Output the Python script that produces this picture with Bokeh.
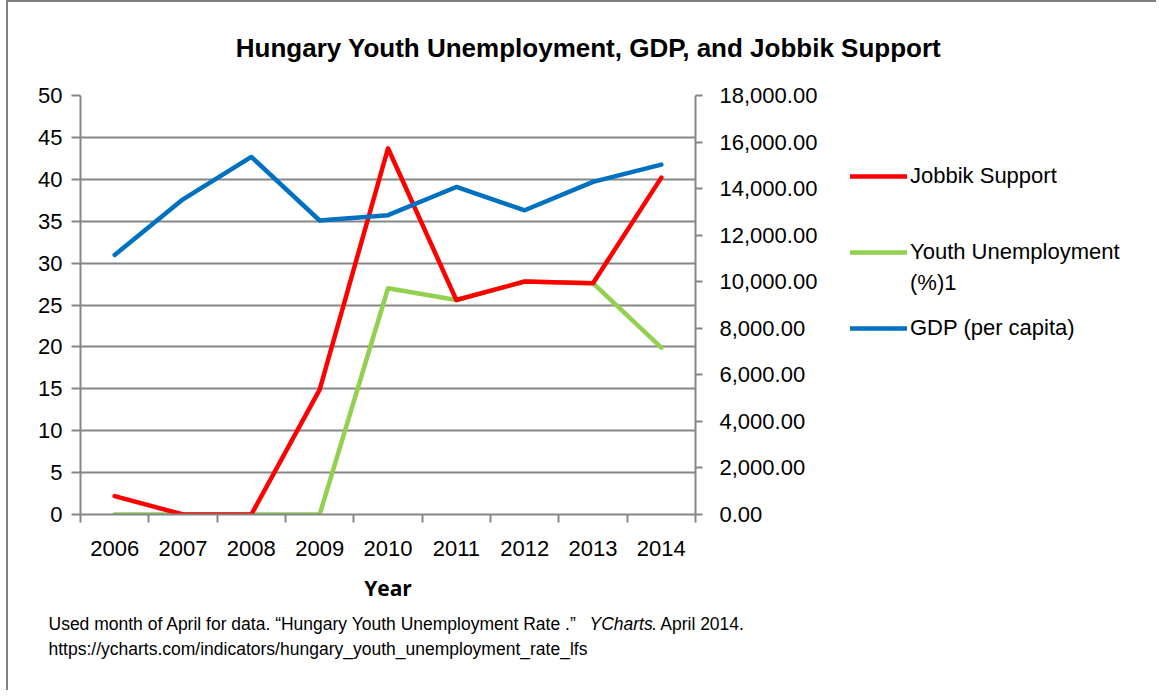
from bokeh.plotting import figure
from bokeh.layouts import column, row
from bokeh.models import (Range1d, LinearAxis, FixedTicker, NumeralTickFormatter,
                          Legend, LegendItem, Label)
from bokeh.embed import file_html
from bokeh.resources import INLINE

# ---- data ----
years = ["2006", "2007", "2008", "2009", "2010", "2011", "2012", "2013", "2014"]
jobbik_support = [2.2, 0, 0, 14.9, 43.7, 25.6, 27.8, 27.6, 40.2]
youth_unemployment = [0, 0, 0, 0, 27.0, 25.6, 27.8, 27.6, 19.9]
gdp_per_capita = [11150, 13540, 15360, 12630, 12860, 14070, 13070, 14290, 15030]
left_ticks = [0, 5, 10, 15, 20, 25, 30, 35, 40, 45, 50]
right_ticks = [0, 2000, 4000, 6000, 8000, 10000, 12000, 14000, 16000, 18000]
series_names = ["Jobbik Support", "Youth Unemployment", "GDP (per capita)"]
series_colors = ["#FF0000", "#92D050", "#0070C0"]
legend_label_cont = "(%)1"
title_text = "Hungary Youth Unemployment, GDP, and Jobbik Support"
foot_parts = ["Used month of April for data. \u201cHungary Youth Unemployment Rate .\u201d",
              "YCharts", ". April 2014."]
foot_url = "https://ycharts.com/indicators/hungary_youth_unemployment_rate_lfs"

FONT = "Liberation Sans"
GRAY = "#868686"
TICK_PX = "22px"


def blank(width, height, xr=(0, 1)):
    f = figure(width=width, height=height, output_backend="svg", toolbar_location=None,
               x_range=Range1d(*xr), y_range=Range1d(0, 1),
               x_axis_location=None, y_axis_location=None, min_border=0)
    f.grid.visible = False
    f.outline_line_color = None
    f.background_fill_color = "white"
    f.border_fill_color = "white"
    return f


# ---- title strip ----
pt = blank(1148, 70)
pt.add_layout(Label(x=580, y=25, x_units="screen", y_units="screen", text=title_text,
                    text_font=FONT, text_font_size="26px", text_font_style="bold",
                    text_align="center", text_baseline="alphabetic", text_color="black"))

# ---- main chart ----
xs = [i + 0.5 for i in range(len(years))]
bounds = list(range(len(years) + 1))

p = figure(frame_width=615, frame_height=419, output_backend="svg", toolbar_location=None,
           x_range=Range1d(0, len(years)), y_range=Range1d(0, 50),
           min_border_left=72, min_border_right=130, min_border_top=23,
           min_border_bottom=91)
p.outline_line_color = None
p.background_fill_color = "white"
p.border_fill_color = "white"
p.extra_y_ranges = {"gdp": Range1d(0, 18000)}

xa = p.xaxis[0]
xa.ticker = FixedTicker(ticks=xs, minor_ticks=bounds)
xa.major_label_overrides = {x: y for x, y in zip(xs, years)}
xa.major_tick_out = 0
xa.major_tick_in = 0
xa.minor_tick_out = 8
xa.minor_tick_in = 0
xa.minor_tick_line_color = GRAY
xa.minor_tick_line_width = 2
xa.axis_line_color = GRAY
xa.axis_line_width = 2
xa.major_label_text_font = FONT
xa.major_label_text_font_size = TICK_PX
xa.major_label_text_color = "black"
xa.major_label_standoff = 18
xa.axis_label = "Year"
xa.axis_label_text_font = "Open Sans"
xa.axis_label_text_font_size = "21px"
xa.axis_label_text_font_style = "bold"
xa.axis_label_text_color = "black"
xa.axis_label_standoff = 15

ya = p.yaxis[0]
ya.ticker = FixedTicker(ticks=left_ticks)
ya.major_tick_out = 9
ya.major_tick_in = 0
ya.major_tick_line_color = GRAY
ya.major_tick_line_width = 2
ya.minor_tick_line_color = None
ya.axis_line_color = GRAY
ya.axis_line_width = 2
ya.major_label_text_font = FONT
ya.major_label_text_font_size = TICK_PX
ya.major_label_text_color = "black"
ya.major_label_standoff = 9

ra = LinearAxis(y_range_name="gdp", ticker=FixedTicker(ticks=right_ticks),
                formatter=NumeralTickFormatter(format="0,0.00"))
ra.major_tick_out = 7
ra.major_tick_in = 0
ra.major_tick_line_color = GRAY
ra.major_tick_line_width = 2
ra.minor_tick_line_color = None
ra.axis_line_color = GRAY
ra.axis_line_width = 2
ra.major_label_text_font = FONT
ra.major_label_text_font_size = TICK_PX
ra.major_label_text_color = "black"
ra.major_label_standoff = 17
p.add_layout(ra, "right")

p.xgrid.visible = False
p.ygrid.grid_line_color = GRAY
p.ygrid.grid_line_width = 2

line_kw = dict(line_width=4.5, line_cap="round", line_join="round")
p.line(xs, youth_unemployment, line_color=series_colors[1], **line_kw)
p.line(xs, jobbik_support, line_color=series_colors[0], **line_kw)
p.line(xs, gdp_per_capita, line_color=series_colors[2], y_range_name="gdp", **line_kw)

# ---- legend strip (its own lines sit outside its visible range; only the key shows) ----
pl = blank(331, 533, xr=(100, 101))
series_values = [jobbik_support, youth_unemployment, gdp_per_capita]
leg_renderers = [pl.line(xs, v, line_color=c, **line_kw)
                 for v, c in zip(series_values, series_colors)]
r_none = pl.line(xs, youth_unemployment, line_color=None)

common = dict(padding=0, margin=0, border_line_color=None, background_fill_alpha=0,
              label_text_font=FONT, label_text_font_size=TICK_PX,
              label_text_color="black", glyph_height=26, label_height=26)
legend = Legend(items=[LegendItem(label=n, renderers=[r])
                       for n, r in zip(series_names, leg_renderers)],
                location=(25, 173), spacing=50, glyph_width=57, label_standoff=3,
                **common)
pl.add_layout(legend, "center")
legend2 = Legend(items=[LegendItem(label=legend_label_cont, renderers=[r_none])],
                 location=(85, 218), spacing=0, glyph_width=0, label_standoff=0,
                 **common)
pl.add_layout(legend2, "center")

# ---- footnote strip ----
pf = blank(1148, 85)
fn = dict(x_units="screen", y_units="screen", text_font=FONT, text_font_size="17.5px",
          text_baseline="alphabetic", text_color="black")
pf.add_layout(Label(x=40, y=67, text=foot_parts[0], **fn))
pf.add_layout(Label(x=581, y=67, text=foot_parts[1], text_font_style="italic", **fn))
pf.add_layout(Label(x=643, y=67, text=foot_parts[2], **fn))
pf.add_layout(Label(x=40, y=42, text=foot_url, **fn))

layout = column(pt, row(p, pl, spacing=0), pf, spacing=0)
layout.styles = {"border-top": "2px solid #808080", "border-left": "2px solid #808080",
                 "margin-left": "6px", "margin-top": "0px"}

open("out.html", "w").write(file_html(layout, INLINE))
